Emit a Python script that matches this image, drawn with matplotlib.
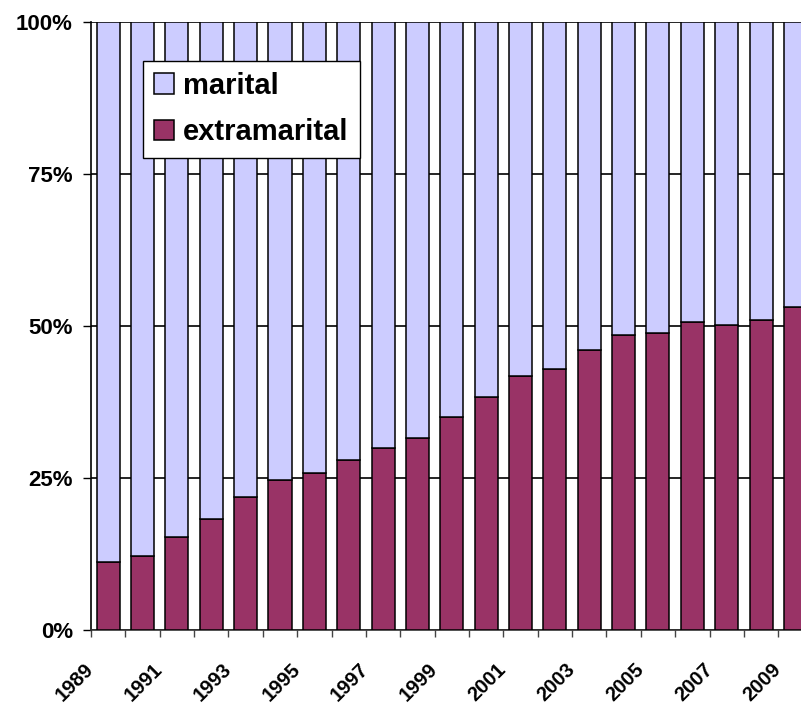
import matplotlib
matplotlib.use("Agg")
import matplotlib.pyplot as plt
import numpy as np

plt.rcParams['font.family'] = ['Liberation Sans', 'DejaVu Sans']

years = list(range(1989, 2010))
extramarital = [11.2, 12.2, 15.3, 18.3, 21.9, 24.6, 25.8, 28.0, 29.9, 31.5,
                35.0, 38.4, 41.8, 42.9, 46.1, 48.5, 48.8, 50.7, 50.1, 51.0, 53.2]
marital = [100 - v for v in extramarital]
y_ticks = [0, 25, 50, 75, 100]
y_ticklabels = ['0%', '25%', '50%', '75%', '100%']

color_marital = '#CCCCFF'
color_extra = '#993366'

fig = plt.figure(figsize=(8.01, 7.04), dpi=100)
ax = fig.add_axes([91 / 801, 74 / 704, (812.6 - 91) / 801, 608 / 704])

x = np.arange(len(years))
w = 0.67
ax.bar(x, extramarital, w, color=color_extra, edgecolor='black', linewidth=1.1,
       label='extramarital', zorder=3)
ax.bar(x, marital, w, bottom=extramarital, color=color_marital, edgecolor='black',
       linewidth=1.1, label='marital', zorder=3)

# horizontal gridlines behind the bars
ax.set_axisbelow(True)
ax.yaxis.grid(True, color='black', linewidth=1.2)
ax.set_yticks(y_ticks)
ax.set_yticklabels(y_ticklabels, fontsize=16, fontweight='bold')
ax.tick_params(axis='y', direction='out', length=6, width=1, pad=7, colors='black')

# category boundary ticks
ax.set_xticks(np.arange(-0.5, len(years) + 0.5, 1.0))
ax.set_xticklabels([])
ax.tick_params(axis='x', which='major', direction='out', length=5, width=1, color='#444444')

ax.set_xlim(-0.5, len(years) - 0.5)
ax.set_ylim(0, 100)

# slanted year labels on every other category, set down and left of the category centre
for i in x[::2]:
    ax.annotate(str(years[i]), xy=(i, 0), xycoords=('data', 'axes fraction'),
                xytext=(-33, -52), textcoords='offset pixels',
                fontsize=14.5, fontweight='bold', rotation=45,
                ha='center', va='center', rotation_mode='anchor',
                annotation_clip=False)

for s in ['top', 'right']:
    ax.spines[s].set_visible(False)
ax.spines['left'].set_color('black')
ax.spines['left'].set_linewidth(1.2)
ax.spines['bottom'].set_color('#333333')
ax.spines['bottom'].set_linewidth(1.2)

handles, labels = ax.get_legend_handles_labels()
leg = ax.legend(handles[::-1], labels[::-1], loc='upper left',
                bbox_to_anchor=((142.7 - 91) / (812.6 - 91), (630 - 60.7) / 608),
                prop={'size': 21, 'weight': 'bold'}, frameon=True, fancybox=False,
                edgecolor='black', framealpha=1, borderpad=0.38, labelspacing=0.64,
                handlelength=0.7, handleheight=0.7, handletextpad=0.3,
                borderaxespad=0)
leg.get_frame().set_linewidth(1.0)
leg.set_zorder(5)

fig.savefig('out.png', dpi=100)
